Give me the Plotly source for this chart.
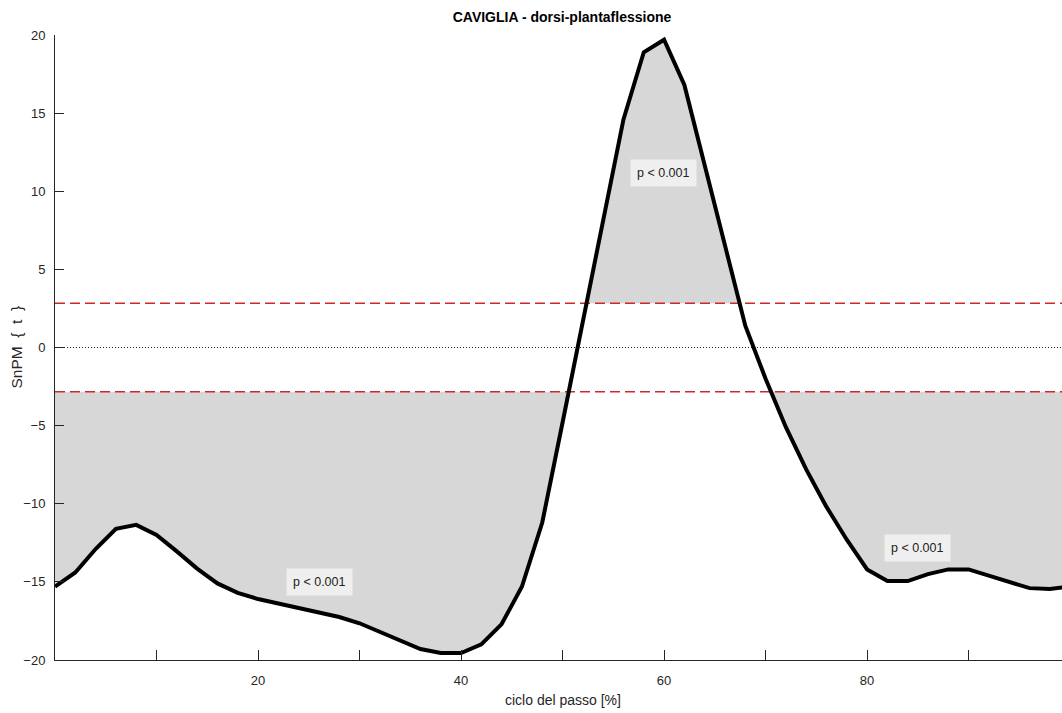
import numpy as np
import plotly.graph_objects as go

# Gait cycle (%) and SnPM{t} statistic
cycle_pct = list(range(0, 101, 2))
snpm_t = [
    -15.3, -14.4, -12.9, -11.6, -11.35, -12.0, -13.05, -14.15, -15.1, -15.7,
    -16.1, -16.4, -16.65, -16.95, -17.25, -17.65, -18.2, -18.8, -19.3, -19.55,
    -19.55, -19.0, -17.7, -15.3, -11.2, -4.8, 1.7, 8.2, 14.6, 18.9,
    19.7, 16.8, 11.6, 6.5, 1.4, -2.0, -5.1, -7.8, -10.2, -12.3,
    -14.2, -14.95, -14.95, -14.5, -14.2, -14.2, -14.6, -15.05, -15.4, -15.45,
    -15.3,
]
t_critical = 2.83

# Cluster p-value labels
cluster_text = ["p < 0.001", "p < 0.001", "p < 0.001"]
cluster_x = [26.1, 59.9, 85.0]
cluster_y = [-15.0, 11.2, -12.8]

# Axis ticks
x_tickvals = [10, 20, 30, 40, 50, 60, 70, 80, 90]
x_ticktext = ["", "20", "", "40", "", "60", "", "80", ""]
y_tickvals = [-20, -15, -10, -5, 0, 5, 10, 15, 20]

FONT = "Liberation Sans, Arial, Helvetica, sans-serif"
AXIS_COLOR = "#262626"
FILL = "#d7d7d7"


def suprathreshold_patches(x, y, thr, sign):
    """Polygons between the threshold and the curve where it exceeds thr."""
    x = np.asarray(x, float)
    y = np.asarray(y, float)
    z = sign * y - thr
    inside = z > 0
    n = len(x)
    patches = []
    i = 0
    while i < n:
        if not inside[i]:
            i += 1
            continue
        j = i
        while j + 1 < n and inside[j + 1]:
            j += 1
        px, py = [], []
        if i > 0:
            f = z[i - 1] / (z[i - 1] - z[i])
            px.append(x[i - 1] + f * (x[i] - x[i - 1]))
        else:
            px.append(x[0])
        py.append(sign * thr)
        px += list(x[i:j + 1])
        py += list(y[i:j + 1])
        if j < n - 1:
            f = z[j] / (z[j] - z[j + 1])
            px.append(x[j] + f * (x[j + 1] - x[j]))
        else:
            px.append(x[-1])
        py.append(sign * thr)
        px.append(px[0])
        py.append(py[0])
        patches.append((px, py))
        i = j + 1
    return patches


fig = go.Figure()

# Shaded suprathreshold clusters
for sign in (1, -1):
    for px, py in suprathreshold_patches(cycle_pct, snpm_t, t_critical, sign):
        fig.add_trace(go.Scatter(
            x=px, y=py, mode="lines", fill="toself", fillcolor=FILL,
            line=dict(width=0, color=FILL), hoverinfo="skip", showlegend=False,
        ))

x_span = [cycle_pct[0], cycle_pct[-1]]

# Zero reference line
fig.add_trace(go.Scatter(
    x=x_span, y=[0, 0], mode="lines",
    line=dict(color="#222222", width=1, dash="1px,2px"),
    hoverinfo="skip", showlegend=False,
))

# Critical threshold lines
for level in (t_critical, -t_critical):
    fig.add_trace(go.Scatter(
        x=x_span, y=[level, level], mode="lines",
        line=dict(color="#cc2a2a", width=1.5, dash="10px,5px"),
        hoverinfo="skip", showlegend=False,
    ))

# SnPM{t} trajectory
fig.add_trace(go.Scatter(
    x=cycle_pct, y=snpm_t, mode="lines",
    line=dict(color="black", width=4),
    showlegend=False,
))

annotations = []
for txt, ax, ay in zip(cluster_text, cluster_x, cluster_y):
    annotations.append(dict(
        x=ax, y=ay, xref="x", yref="y", text=txt, showarrow=False,
        font=dict(family=FONT, size=12.5, color="#222222"),
        bgcolor="#efefef", borderpad=6,
    ))

# Axis titles
annotations.append(dict(
    x=50, y=0, xref="x", yref="paper", yshift=-40, yanchor="middle",
    text="ciclo del passo [%]", showarrow=False,
    font=dict(family=FONT, size=14, color=AXIS_COLOR),
))
annotations.append(dict(
    x=0, y=0, xref="paper", yref="y", xshift=-39, xanchor="center",
    text="SnPM\u00a0\u00a0{\u00a0\u00a0t\u00a0\u00a0}", textangle=-90, showarrow=False,
    font=dict(family=FONT, size=15.5, color=AXIS_COLOR),
))

fig.update_layout(
    width=1062, height=713,
    margin=dict(l=55, r=0, t=35, b=53),
    paper_bgcolor="white", plot_bgcolor="white",
    title=dict(
        text="CAVIGLIA - dorsi-plantaflessione",
        x=562 / 1062, xref="container", xanchor="center",
        y=1 - 17 / 713, yref="container", yanchor="middle",
        font=dict(family=FONT, size=14, color="black", weight="bold"),
    ),
    annotations=annotations,
    showlegend=False,
)

fig.update_xaxes(
    range=[0, 99.2], showgrid=False, zeroline=False,
    showline=True, linecolor=AXIS_COLOR, linewidth=1,
    ticks="inside", ticklen=10, tickwidth=1, tickcolor=AXIS_COLOR,
    tickvals=x_tickvals, ticktext=x_ticktext, ticklabelstandoff=8,
    tickfont=dict(family=FONT, size=13, color=AXIS_COLOR),
)
fig.update_yaxes(
    range=[-20, 20], showgrid=False, zeroline=False,
    showline=True, linecolor=AXIS_COLOR, linewidth=1,
    ticks="inside", ticklen=9, tickwidth=1, tickcolor=AXIS_COLOR,
    tickvals=y_tickvals, ticklabelstandoff=6,
    tickfont=dict(family=FONT, size=13, color=AXIS_COLOR),
)

fig.write_html("out.html")
